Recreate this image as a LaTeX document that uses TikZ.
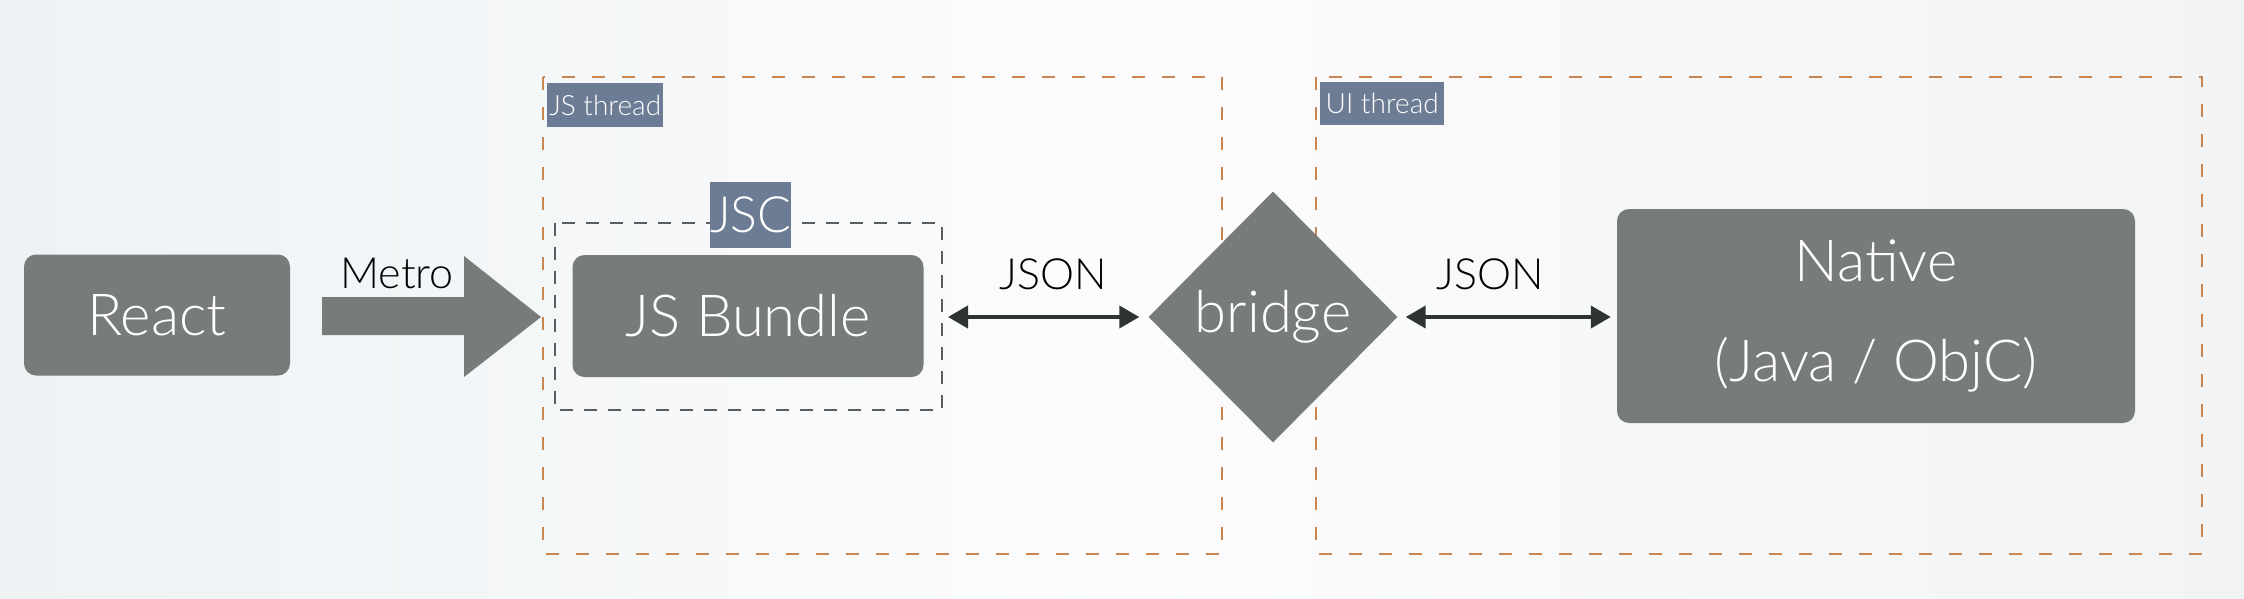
\documentclass[tikz,border=0pt]{standalone}
\usepackage{fontspec}
\setmainfont{Lato}[UprightFont=* Light]
\usetikzlibrary{shapes.geometric,arrows.meta}
\definecolor{boxgray}{HTML}{777C7B}
\definecolor{slate}{HTML}{6D7C95}
\definecolor{orangedash}{HTML}{C98653}
\definecolor{graydash}{HTML}{5A5E60}
\definecolor{arrowdark}{HTML}{2E3434}
\definecolor{bgleft}{HTML}{EDF2F5}
\definecolor{bgmid}{HTML}{FCFCFC}
\definecolor{bgright}{HTML}{F1F3F5}
\tikzset{
  block/.style={rectangle, rounded corners=12pt, fill=boxgray, draw=none, text=white, inner sep=0pt},
  bigtext/.style={font=\fontsize{58}{68}\selectfont},
  midtext/.style={font=\fontsize{43}{50}\selectfont, text=black, inner sep=0pt},
  tag/.style={rectangle, fill=slate, text=white, inner sep=0pt, anchor=north west},
  threadbox/.style={draw=orangedash, line width=2.2pt, dash pattern=on 13pt off 17pt},
  jscbox/.style={draw=graydash, line width=2pt, dash pattern=on 13pt off 11pt},
  link/.style={draw=arrowdark, line width=4pt, {Triangle[length=20pt,width=22pt]}-{Triangle[length=20pt,width=22pt]}},
}
\begin{document}
\begin{tikzpicture}[x=1pt,y=-1pt]
\useasboundingbox (0,0) rectangle (2244,598);
\shade[left color=bgleft, right color=bgright, middle color=bgmid] (0,0) rectangle (2244,598);

% thread boxes
\draw[threadbox] (543,77) rectangle (1222,554);
\draw[threadbox] (1316,77) rectangle (2202,554);
\node[tag, minimum width=116pt, minimum height=44pt, font=\fontsize{28}{30}\selectfont] (jstag) at (547,83) {JS thread};
\node[tag, minimum width=124pt, minimum height=43pt, font=\fontsize{28}{30}\selectfont] (uitag) at (1320,82) {UI thread};

% JSC box
\draw[jscbox] (555,223) rectangle (942,410);
\coordinate (jsceast) at (942,317);
\node[tag, minimum width=76pt, minimum height=66pt, font=\fontsize{50}{54}\selectfont] (jsctag) at (710,182) {JSC};

% main blocks
\node[block, bigtext, minimum width=266pt, minimum height=121pt] (react) at (157,315) {React};
\node[block, bigtext, minimum width=351pt, minimum height=122pt] (bundle) at (748,316) {JS Bundle};
\node[block, minimum width=518pt, minimum height=214pt, align=center, font=\fontsize{58}{100}\selectfont] (native) at (1876,316) {Native\\(Java / ObjC)};
\node[diamond, fill=boxgray, text=white, bigtext, inner sep=0pt, minimum width=249pt, minimum height=251pt] (bridge) at (1273,317) {bridge};

% Metro block arrow
\fill[boxgray] (322,297) -- (464,297) -- (464,256) -- (541,317) -- (464,377) -- (464,335) -- (322,335) -- cycle;
\node[midtext] (metro) at (397,273) {Metro};

% JSON links
\draw[link, shorten <=6pt, shorten >=9pt] (jsceast) -- (bridge.west);
\draw[link, shorten <=8pt, shorten >=6pt] (bridge.east) -- (native.west |- bridge.east);
\node[midtext] (json1) at (1053,274) {JSON};
\node[midtext] (json2) at (1490,274) {JSON};
\end{tikzpicture}
\end{document}
